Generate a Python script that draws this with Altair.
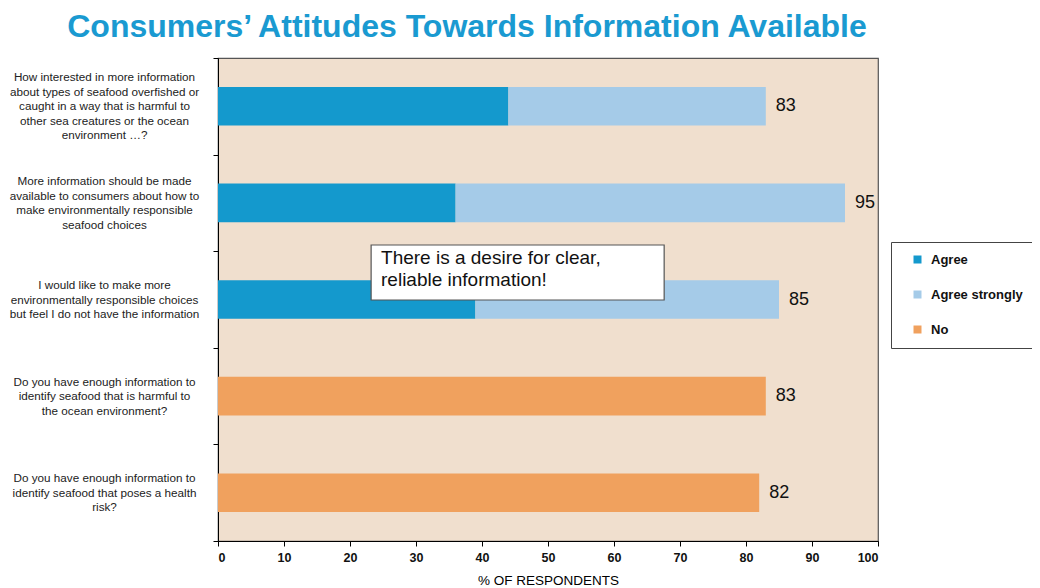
import altair as alt
import pandas as pd

questions = [
    "How interested in more information|about types of seafood overfished or|caught in a way that is harmful to|other sea creatures or the ocean|environment …?",
    "More information should be made|available to consumers about how to|make environmentally responsible|seafood choices",
    "I would like to make more|environmentally responsible choices|but feel I do not have the information",
    "Do you have enough information to|identify seafood that is harmful to|the ocean environment?",
    "Do you have enough information to|identify seafood that poses a health|risk?",
]
agree = [44, 36, 39, 0, 0]
agree_strongly = [39, 59, 46, 0, 0]
no = [0, 0, 0, 83, 82]
totals = [83, 95, 85, 83, 82]

series = ["Agree", "Agree strongly", "No"]
colors = ["#1499CD", "#A5CBE8", "#F0A15E"]

FONT = "Liberation Sans"
PLOT_W, PLOT_H = 660, 483
LABEL_LH = 14.5  # line height of the question labels, px

rows = []
for q, a, s, n in zip(questions, agree, agree_strongly, no):
    for k, (name, v) in enumerate(zip(series, [a, s, n])):
        if v > 0:
            rows.append({"q": q, "series": name, "value": v, "ord": k})
df = pd.DataFrame(rows)
tot = pd.DataFrame({"q": questions, "total": totals})

# question labels: multi-line text, first line placed so the block is centred on its band
step_units = LABEL_LH / (PLOT_H / len(questions))
lab = pd.DataFrame({
    "idx": list(range(len(questions))),
    "lines": [q.split("|") for q in questions],
})
lab["ypos"] = lab["idx"] - (lab["lines"].str.len() - 1) / 2 * step_units

annot_x = [23.2, 67.6]
annot_text = ["There is a desire for clear,", "reliable information!"]
annot = pd.DataFrame({"x": [annot_x[0]], "x2": [annot_x[1]], "tx": [annot_x[0] + 1.5],
                      "text": [annot_text]})

yenc = alt.Y("q:N", sort=questions, title=None,
             scale=alt.Scale(paddingInner=0, paddingOuter=0),
             axis=alt.Axis(tickBand="extent", tickSize=5, tickColor="#000",
                           domainColor="#000", labels=False))
xscale = alt.Scale(domain=[0, 100], nice=False)

bars = alt.Chart(df).mark_bar(height={"band": 0.4}).encode(
    x=alt.X("value:Q", stack="zero", scale=xscale,
            axis=alt.Axis(values=list(range(0, 101, 10)), title="% OF RESPONDENTS",
                          grid=False, tickSize=5, tickColor="#000", domainColor="#000",
                          labelFontSize=12.5, labelFontWeight="bold", labelColor="#111",
                          labelFont=FONT, labelPadding=5, titleFontSize=13.5,
                          titleFontWeight="normal", titleFont=FONT, titlePadding=10,
                          titleColor="#000")),
    y=yenc,
    color=alt.Color("series:N", scale=alt.Scale(domain=series, range=colors),
                    legend=alt.Legend(title=None, orient="none", legendX=673, legendY=184,
                                      symbolType="square", symbolSize=64,
                                      symbolStrokeWidth=0, symbolOffset=9,
                                      labelFontSize=13, labelFontWeight="bold",
                                      labelFont=FONT, labelColor="#111", rowPadding=21,
                                      padding=11, strokeColor="#444", fillColor="white",
                                      labelOffset=7)),
    order=alt.Order("ord:Q"),
)

values = alt.Chart(tot).mark_text(align="left", dx=10, fontSize=18, font=FONT,
                                  color="#111").encode(
    x=alt.X("total:Q", scale=xscale),
    y=alt.Y("q:N", sort=questions),
    text=alt.Text("total:Q"),
)

box = alt.Chart(annot).mark_rect(fill="white", stroke="#555", strokeWidth=1.2).encode(
    x=alt.X("x:Q", scale=xscale),
    x2="x2:Q",
    y=alt.value(187),
    y2=alt.value(242),
)
btext = alt.Chart(annot).mark_text(align="left", baseline="middle", fontSize=19,
                                   font=FONT, lineHeight=22, color="#111").encode(
    x=alt.X("tx:Q", scale=xscale),
    y=alt.value(200),
    text="text",
)

main = alt.layer(bars, values, box, btext)

qlabels = alt.Chart(lab).mark_text(align="center", baseline="middle", fontSize=11.7,
                                   font=FONT, lineHeight=LABEL_LH, color="#222",
                                   clip=False).encode(
    x=alt.value(-113.5),
    y=alt.Y("ypos:Q", scale=alt.Scale(domain=[-0.5, len(questions) - 0.5], reverse=True,
                                      nice=False, zero=False), axis=None),
    text="lines",
)

chart = alt.layer(main, qlabels).resolve_scale(y="independent").properties(
    width=PLOT_W, height=PLOT_H,
    autosize=alt.AutoSizeParams(type="none"),
    padding={"left": 210, "top": 50, "right": 154, "bottom": 50},
    title=alt.TitleParams("Consumers’ Attitudes Towards Information Available",
                          anchor="middle", frame="group", dx=-81, fontSize=32, font=FONT,
                          fontWeight="bold", color="#1A9AD1", offset=14),
).configure_view(fill="#F0DFCE", stroke="#555", strokeWidth=1.2)

chart.save("out.html", embed_options={"renderer": "svg", "actions": False})
